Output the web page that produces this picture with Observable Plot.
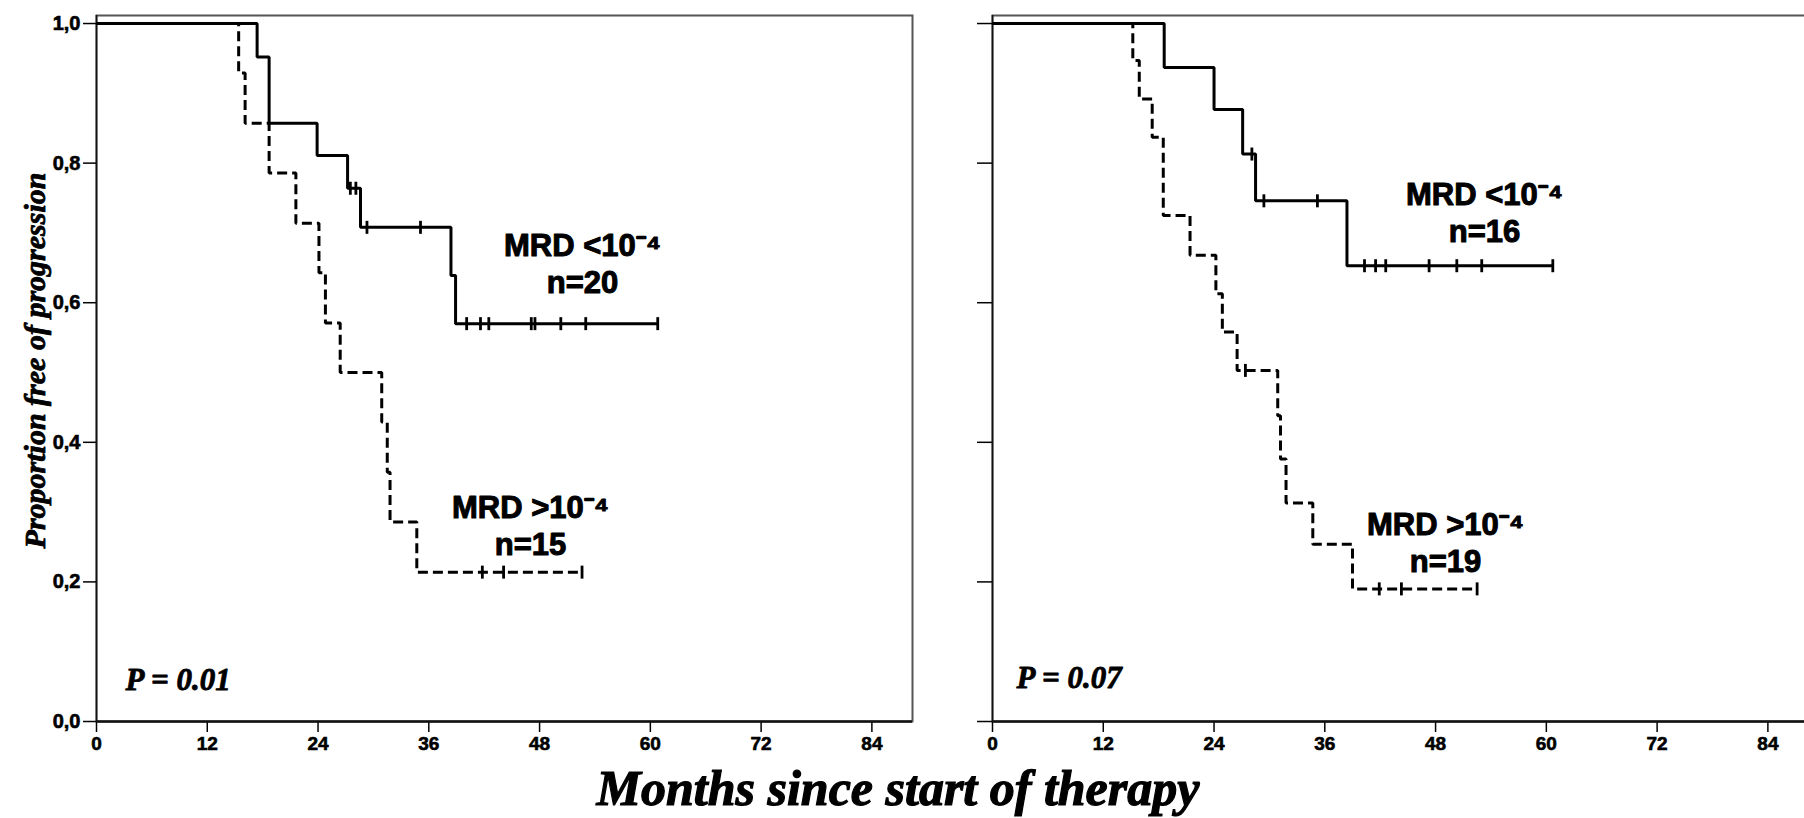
<!DOCTYPE html>
<html>
<head>
<meta charset="utf-8">
<script src="https://cdn.jsdelivr.net/npm/d3@7"></script>
<script src="https://cdn.jsdelivr.net/npm/@observablehq/plot@0.6"></script>
<style>
  html, body { margin: 0; padding: 0; background: #fff; overflow: hidden; }
  #wrap { position: relative; width: 1804px; height: 818px; overflow: hidden; background: #fff; }
  #wrap svg { position: absolute; top: 0; }
  #wrap g[aria-label="y-axis tick label"] text { font-size: 20px; font-weight: bold; stroke: black; stroke-width: 0.6px; }
  #wrap g[aria-label="x-axis tick label"] text { font-size: 19px; font-weight: bold; stroke: black; stroke-width: 0.6px; }
</style>
</head>
<body>
<div id="wrap"></div>
<script>
// ---------- data ----------
const xTicks = [0, 12, 24, 36, 48, 60, 72, 84];
const yTicks = [0, 0.2, 0.4, 0.6, 0.8, 1.0];
const xDomain = [0, 88.4];
const yDomain = [0, 1.0115];

// Left panel – MRD < 10^-4 (n=20), solid
const leftLowTimes  = [0, 17.4, 18.7, 23.9, 27.2, 28.6, 38.4, 38.9, 60.8];
const leftLowSurv   = [1, 0.952, 0.857, 0.811, 0.764, 0.708, 0.639, 0.570, 0.570];
const leftLowCensor = [27.5, 28.1, 29.3, 35.1, 40.1, 41.6, 42.5, 47.1, 47.5, 50.3, 53.0, 60.8];
// Left panel – MRD > 10^-4 (n=15), dashed
const leftHighTimes  = [0, 15.4, 16.1, 18.7, 21.6, 24.1, 24.8, 26.4, 30.9, 31.5, 31.8, 34.7, 52.6];
const leftHighSurv   = [1, 0.929, 0.857, 0.786, 0.714, 0.643, 0.571, 0.500, 0.429, 0.357, 0.286, 0.214, 0.214];
const leftHighCensor = [41.8, 44.1, 52.6];

// Right panel – MRD < 10^-4 (n=16), solid
const rightLowTimes  = [0, 18.6, 24.0, 27.1, 28.5, 38.4, 60.7];
const rightLowSurv   = [1, 0.937, 0.877, 0.813, 0.746, 0.653, 0.653];
const rightLowCensor = [28.1, 29.4, 35.2, 40.3, 41.5, 42.6, 47.3, 50.3, 53.0, 60.7];
// Right panel – MRD > 10^-4 (n=19), dashed
const rightHighTimes  = [0, 15.2, 15.9, 17.3, 18.5, 21.4, 24.2, 24.9, 26.5, 30.9, 31.2, 31.8, 34.7, 39.0, 52.5];
const rightHighSurv   = [1, 0.947, 0.892, 0.837, 0.725, 0.668, 0.613, 0.558, 0.503, 0.438, 0.376, 0.313, 0.254, 0.190, 0.190];
const rightHighCensor = [27.4, 41.9, 44.3, 52.5];

const leftLabels  = ["MRD <10⁻⁴\nn=20", "MRD >10⁻⁴\nn=15"];
const rightLabels = ["MRD <10⁻⁴\nn=16", "MRD >10⁻⁴\nn=19"];
const pValues = ["P = 0.01", "P = 0.07"];
const yLabel = "Proportion free of progression";
const xLabel = "Months since start of therapy";

// ---------- helpers ----------
const survAt = (times, surv, t) => { let s = surv[0]; times.forEach((ti, i) => { if (ti <= t) s = surv[i]; }); return s; };
const curve = (times, surv) => times.map((t, i) => ({t, s: surv[i]}));
const censors = (times, surv, cens) => cens.map(t => ({t, s: survAt(times, surv, t)}));
const censorSymbol = {draw(ctx, size) { const r = Math.sqrt(size / Math.PI); ctx.moveTo(0, -r); ctx.lineTo(0, r); }};
const fmt = d => d.toFixed(1).replace(".", ",");

const SANS = "'Liberation Sans', Arial, sans-serif";
const SERIF = "'Liberation Serif', 'Times New Roman', serif";

function panel(cfg) {
  const low = curve(cfg.lowT, cfg.lowS), high = curve(cfg.highT, cfg.highS);
  const labelStyle = {text: d => d, frameAnchor: "top-left", textAnchor: "middle", lineAnchor: "middle", lineHeight: 1.2, fontSize: 31, fontWeight: "bold", fontFamily: SANS, fill: "black", stroke: "black", strokeWidth: 1};
  const serifStyle = {text: d => d, fontWeight: "bold", fontStyle: "italic", fontFamily: SERIF, fill: "black", stroke: "black", strokeWidth: 0.8, lineAnchor: "middle"};
  const marks = [
    Plot.frame({stroke: "#555", strokeWidth: 2}),
    Plot.axisY(yTicks, {tickSize: cfg.yTickSize, tickPadding: 3, tickFormat: cfg.yLabels ? fmt : () => "", label: null, fontSize: 20, fontWeight: "bold", strokeWidth: 1.5}),
    Plot.axisX(xTicks, {tickSize: 11, tickPadding: 4, label: null, fontSize: 19, fontWeight: "bold", strokeWidth: 1.5}),
    Plot.ruleX([0], {stroke: "#111", strokeWidth: 1.6}),
    Plot.ruleY([0], {stroke: "#111", strokeWidth: 2.6}),
    Plot.line(high, {x: "t", y: "s", curve: "step-after", stroke: "black", strokeWidth: 3, strokeDasharray: "10,5", strokeLinecap: "butt", strokeLinejoin: "miter"}),
    Plot.line(low, {x: "t", y: "s", curve: "step-after", stroke: "black", strokeWidth: 3, strokeLinecap: "butt", strokeLinejoin: "miter"}),
    Plot.dot(censors(cfg.highT, cfg.highS, cfg.highC), {x: "t", y: "s", symbol: censorSymbol, r: 6.5, fill: "none", stroke: "black", strokeWidth: 2.8}),
    Plot.dot(censors(cfg.lowT, cfg.lowS, cfg.lowC), {x: "t", y: "s", symbol: censorSymbol, r: 6.5, fill: "none", stroke: "black", strokeWidth: 2.8}),
    Plot.text([cfg.labels[0]], {...labelStyle, dx: cfg.lowPos[0], dy: cfg.lowPos[1]}),
    Plot.text([cfg.labels[1]], {...labelStyle, dx: cfg.highPos[0], dy: cfg.highPos[1]}),
    Plot.text([cfg.p], {...serifStyle, frameAnchor: "top-left", dx: cfg.pPos[0], dy: cfg.pPos[1], textAnchor: "start", fontSize: 31})
  ];
  if (cfg.yLabels) {
    marks.push(Plot.text([yLabel], {...serifStyle, frameAnchor: "left", rotate: -90, dx: -61, dy: -8, textAnchor: "middle", fontSize: 30}));
  }
  const svg = Plot.plot({
    width: cfg.width, height: 818,
    marginLeft: cfg.marginLeft, marginRight: cfg.marginRight, marginTop: 15, marginBottom: 97,
    x: {domain: xDomain},
    y: {domain: yDomain},
    style: {background: "white", color: "black", fontFamily: SANS, fontSize: "19px", fontWeight: "bold", overflow: "visible"},
    marks
  });
  svg.style.left = cfg.left + "px";
  return svg;
}

const wrap = document.getElementById("wrap");
wrap.appendChild(panel({
  left: 0, width: 930, marginLeft: 96, marginRight: 18, yTickSize: 13, yLabels: true,
  lowT: leftLowTimes, lowS: leftLowSurv, lowC: leftLowCensor,
  highT: leftHighTimes, highS: leftHighSurv, highC: leftHighCensor,
  labels: leftLabels, p: pValues[0],
  lowPos: [486, 247], highPos: [434, 509], pPos: [29, 665]
}));
wrap.appendChild(panel({
  left: 930, width: 878, marginLeft: 62, marginRight: 0, yTickSize: 15, yLabels: false,
  lowT: rightLowTimes, lowS: rightLowSurv, lowC: rightLowCensor,
  highT: rightHighTimes, highS: rightHighSurv, highC: rightHighCensor,
  labels: rightLabels, p: pValues[1],
  lowPos: [492, 196], highPos: [453, 526], pPos: [24, 663]
}));

// shared x-axis title
const over = d3.select(wrap).append("svg")
  .attr("width", 1804).attr("height", 818)
  .style("left", "0px").style("pointer-events", "none");
over.append("text")
  .attr("x", 898).attr("y", 805)
  .attr("text-anchor", "middle")
  .style("font-family", SERIF).style("font-size", "50px")
  .style("font-weight", "bold").style("font-style", "italic")
  .attr("fill", "black").attr("stroke", "black").attr("stroke-width", 1.2)
  .text(xLabel);
</script>
</body>
</html>
